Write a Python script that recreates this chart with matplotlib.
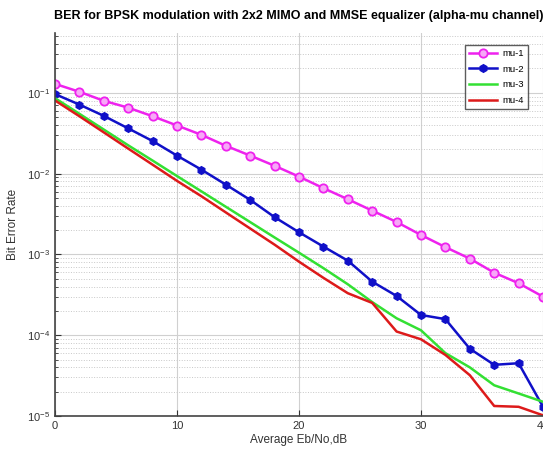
import matplotlib
matplotlib.use("Agg")
import matplotlib.pyplot as plt
from matplotlib.ticker import LogLocator, LogFormatterMathtext, NullFormatter

plt.rcParams['font.family'] = ['Liberation Sans', 'DejaVu Sans']
plt.rcParams['mathtext.fontset'] = 'custom'
plt.rcParams['mathtext.rm'] = 'Liberation Sans'
plt.rcParams['mathtext.it'] = 'Liberation Sans'

ebno = [0, 2, 4, 6, 8, 10, 12, 14, 16, 18, 20, 22, 24, 26, 28, 30, 32, 34, 36, 38, 40]
ber_mu1 = [0.129, 0.103, 0.0796, 0.0655, 0.0513, 0.0394, 0.0302, 0.0221, 0.0167, 0.0125,
           0.00918, 0.00661, 0.00482, 0.00348, 0.00252, 0.00174, 0.00123, 0.000887,
           0.000594, 0.00044, 0.0003]
ber_mu2 = [0.0964, 0.0715, 0.0518, 0.0363, 0.0253, 0.0167, 0.0112, 0.00731, 0.00473,
           0.00289, 0.00188, 0.00125, 0.000837, 0.00046, 0.000306, 0.000178, 0.000158,
           6.8e-5, 4.3e-5, 4.5e-5, 1.3e-5]
ber_mu3 = [0.0859, 0.055, 0.0351, 0.0224, 0.0145, 0.00933, 0.00603, 0.00389, 0.00251,
           0.00162, 0.00105, 0.000676, 0.000427, 0.000257, 0.000162, 0.000115, 6.0e-5,
           4.0e-5, 2.4e-5, 1.9e-5, 1.5e-5]
ber_mu4 = [0.0804, 0.0513, 0.0324, 0.0204, 0.0129, 0.00813, 0.00525, 0.00331, 0.00209,
           0.00132, 0.000813, 0.000513, 0.000331, 0.000251, 0.000111, 8.9e-5, 5.7e-5,
           3.2e-5, 1.33e-5, 1.3e-5, 1.02e-5]
labels = ['mu-1', 'mu-2', 'mu-3', 'mu-4']

fig = plt.figure(figsize=(5.43, 4.53), dpi=100)
ax = fig.add_axes([55/543, 37/453, 488/543, 383/453])

ax.semilogy(ebno, ber_mu1, '-o', color='#ee22ee', lw=1.8, ms=6,
            mfc='#f7a8f7', mec='#ee22ee', mew=1.3, label=labels[0])
ax.semilogy(ebno, ber_mu2, '-h', color='#1010c8', lw=1.8, ms=5.5,
            mfc='#1010c8', mec='#1010c8', label=labels[1])
ax.semilogy(ebno, ber_mu3, '-', color='#33e033', lw=1.8, label=labels[2])
ax.semilogy(ebno, ber_mu4, '-', color='#dd1a1a', lw=1.8, label=labels[3])

ax.set_xlim(0, 40)
ax.set_ylim(1e-5, 0.55)
ax.set_xticks([0, 10, 20, 30, 40])
ax.yaxis.set_major_locator(LogLocator(base=10, numticks=10))
ax.yaxis.set_major_formatter(LogFormatterMathtext())
ax.yaxis.set_minor_locator(LogLocator(base=10, subs=range(2, 10), numticks=20))
ax.yaxis.set_minor_formatter(NullFormatter())

ax.grid(True, which='major', color='#d0d0d0', lw=0.8, ls='-')
ax.grid(True, which='minor', axis='y', color='#c8c8c8', lw=0.7, ls=':')
ax.set_axisbelow(True)

for s in ['top', 'right']:
    ax.spines[s].set_visible(False)
for s in ['left', 'bottom']:
    ax.spines[s].set_color('#444444')
    ax.spines[s].set_linewidth(1.2)

ax.tick_params(which='both', direction='in', labelsize=8, colors='#333333',
               labelcolor='#333333', length=4)
ax.tick_params(which='minor', length=2)

ax.set_xlabel('Average Eb/No,dB', fontsize=8.5, color='#333333', labelpad=2)
ax.set_ylabel('Bit Error Rate', fontsize=8.5, color='#333333', labelpad=6)
ax.set_title('BER for BPSK modulation with 2x2 MIMO and MMSE equalizer (alpha-mu channel)',
             fontsize=9, fontweight='bold', pad=10)

leg = ax.legend(loc='upper right', bbox_to_anchor=(0.978, 0.98), fontsize=6.8,
                frameon=True, fancybox=False, edgecolor='#333333', handlelength=3.0,
                borderpad=0.4, labelspacing=0.7, handletextpad=0.5)
leg.get_frame().set_linewidth(1.0)

fig.savefig('out.png', dpi=100)
